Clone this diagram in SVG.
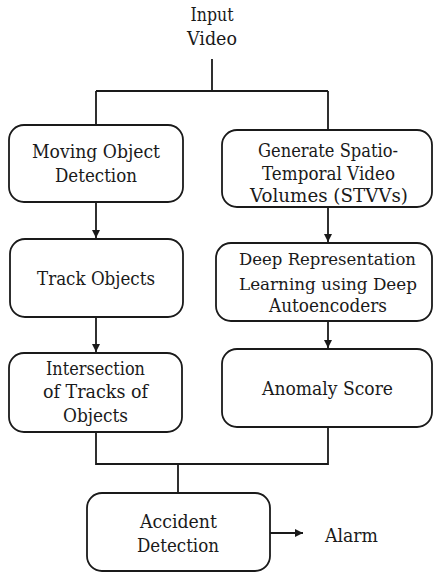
<svg xmlns="http://www.w3.org/2000/svg" width="434" height="573" viewBox="0 0 434 573">
<defs>
<marker id="ah" viewBox="0 0 10 10" refX="10" refY="5" markerWidth="8" markerHeight="8" markerUnits="userSpaceOnUse" orient="auto">
<path d="M0,0 L10,5 L0,10 z" fill="#1a1a1a"/>
</marker>
</defs>
<style>
.box{fill:#fff;stroke:#1a1a1a;stroke-width:1.8}
.ln{fill:none;stroke:#1a1a1a;stroke-width:1.8}
.t{font-family:'DejaVu Serif','Liberation Serif',serif;font-size:18.5px;fill:#1a1a1a;text-anchor:middle}
.s{font-size:17px}
</style>
<rect width="434" height="573" fill="#fff"/>
<g id="connectors">
<path class="ln" d="M212,59 V91 M96,91 H328 M96,91 V125 M328,91 V130"/>
<path class="ln" d="M96,202 V238" marker-end="url(#ah)"/>
<path class="ln" d="M328,207 V242" marker-end="url(#ah)"/>
<path class="ln" d="M96,317 V352" marker-end="url(#ah)"/>
<path class="ln" d="M328,321 V348" marker-end="url(#ah)"/>
<path class="ln" d="M96,432 V464 H328 V427 M178,464 V493"/>
<path class="ln" d="M270,533 H303" marker-end="url(#ah)"/>
</g>
<g id="input" class="t">
<text x="212" y="21" textLength="43" lengthAdjust="spacingAndGlyphs">Input</text>
<text x="212" y="45" textLength="50" lengthAdjust="spacingAndGlyphs">Video</text>
</g>
<g id="moving" class="t">
<rect class="box" x="9" y="125" width="174" height="77" rx="15"/>
<text x="96" y="158" textLength="128" lengthAdjust="spacingAndGlyphs">Moving Object</text>
<text x="96" y="182" textLength="82" lengthAdjust="spacingAndGlyphs">Detection</text>
</g>
<g id="stvv" class="t">
<rect class="box" x="222" y="130" width="210" height="77" rx="15"/>
<text x="328" y="157" textLength="140" lengthAdjust="spacingAndGlyphs">Generate Spatio-</text>
<text x="328.5" y="180" textLength="133" lengthAdjust="spacingAndGlyphs">Temporal Video</text>
<text x="329" y="202" textLength="158" lengthAdjust="spacingAndGlyphs">Volumes (STVVs)</text>
</g>
<g id="track" class="t">
<rect class="box" x="10" y="239" width="173" height="78" rx="15"/>
<text x="96" y="285" textLength="118" lengthAdjust="spacingAndGlyphs">Track Objects</text>
</g>
<g id="deep" class="t">
<rect class="box" x="216" y="243" width="216" height="78" rx="15"/>
<text class="s" x="327.5" y="265" textLength="177" lengthAdjust="spacingAndGlyphs">Deep Representation</text>
<text class="s" x="328" y="290" textLength="178" lengthAdjust="spacingAndGlyphs">Learning using Deep</text>
<text x="328" y="312" textLength="118" lengthAdjust="spacingAndGlyphs">Autoencoders</text>
</g>
<g id="intersection" class="t">
<rect class="box" x="9" y="353" width="173" height="79" rx="15"/>
<text x="95.5" y="375" textLength="99" lengthAdjust="spacingAndGlyphs">Intersection</text>
<text x="95.5" y="398" textLength="105" lengthAdjust="spacingAndGlyphs">of Tracks of</text>
<text x="95.5" y="422" textLength="65" lengthAdjust="spacingAndGlyphs">Objects</text>
</g>
<g id="anomaly" class="t">
<rect class="box" x="222" y="349" width="210" height="78" rx="15"/>
<text x="327.5" y="395" textLength="131" lengthAdjust="spacingAndGlyphs">Anomaly Score</text>
</g>
<g id="accident" class="t">
<rect class="box" x="87" y="493" width="183" height="78" rx="15"/>
<text x="178.5" y="528" textLength="77" lengthAdjust="spacingAndGlyphs">Accident</text>
<text x="178" y="552" textLength="82" lengthAdjust="spacingAndGlyphs">Detection</text>
</g>
<g id="alarm" class="t">
<text x="351.5" y="542" textLength="53" lengthAdjust="spacingAndGlyphs">Alarm</text>
</g>
</svg>
